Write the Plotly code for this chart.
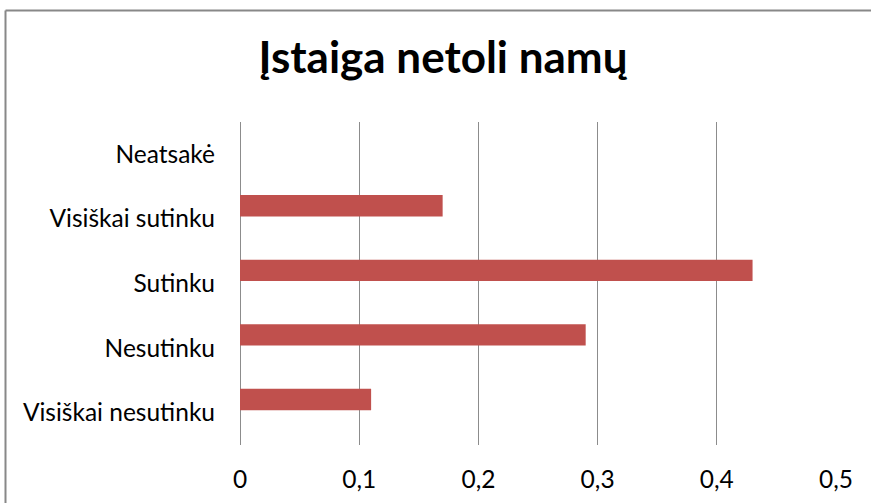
import plotly.graph_objects as go

categories = ["Visiškai nesutinku", "Nesutinku", "Sutinku", "Visiškai sutinku", "Neatsakė"]
values = [0.11, 0.29, 0.43, 0.17, 0.0]
tick_vals = [0, 0.1, 0.2, 0.3, 0.4, 0.5]
tick_text = ["0", "0,1", "0,2", "0,3", "0,4", "0,5"]
title_text = "Įstaiga netoli namų"

FONT = "Lato"
GRID = "#8c8c8c"

fig = go.Figure()
fig.add_trace(go.Bar(
    x=values, y=categories, orientation="h",
    marker=dict(color="#C0504D", line=dict(width=0)),
    width=0.331, offset=0.0385,
    hoverinfo="skip",
))

L, R, T, B = 240, 36, 122, 59
x_left = (5.5 - L) / 596
x_right = (871 - L) / 596
y_top = (445 - 10.5) / 323
y_bottom = (445 - 503) / 323
fig.update_layout(
    width=872, height=504,
    margin=dict(l=L, r=R, t=T, b=B, autoexpand=False),
    paper_bgcolor="white", plot_bgcolor="white",
    showlegend=False,
    font=dict(family=FONT, color="black", size=24.5),
    title=dict(text="<b>" + title_text + "</b>", x=0.508, xref="container",
               xanchor="center", y=1 - 58 / 504, yref="container", yanchor="middle",
               font=dict(family=FONT, size=44, color="black")),
    xaxis=dict(range=[0, 0.5], tickvals=tick_vals, ticktext=tick_text,
               showgrid=True, gridcolor=GRID, gridwidth=1.4,
               zeroline=True, zerolinecolor=GRID, zerolinewidth=1.4,
               showline=False, ticks="", ticklabelstandoff=17,
               tickfont=dict(family=FONT, size=24.5, color="black"), fixedrange=True),
    yaxis=dict(type="category", categoryorder="array", categoryarray=categories,
               range=[-0.5, 4.5], showgrid=False, zeroline=False, showline=False,
               ticks="", ticklabelstandoff=24,
               tickfont=dict(family=FONT, size=24.5, color="black"), fixedrange=True),
    shapes=[
        dict(type="line", xref="paper", yref="paper",
             x0=x_left, x1=x_left, y0=y_bottom, y1=y_top,
             line=dict(color="#888888", width=2), layer="below"),
        dict(type="line", xref="paper", yref="paper",
             x0=x_left, x1=x_right, y0=y_top, y1=y_top,
             line=dict(color="#888888", width=2), layer="below"),
    ],
)

fig.write_html("out.html", config={"displayModeBar": False},
               post_script="document.body.style.margin='0';document.body.style.overflow='hidden';")
